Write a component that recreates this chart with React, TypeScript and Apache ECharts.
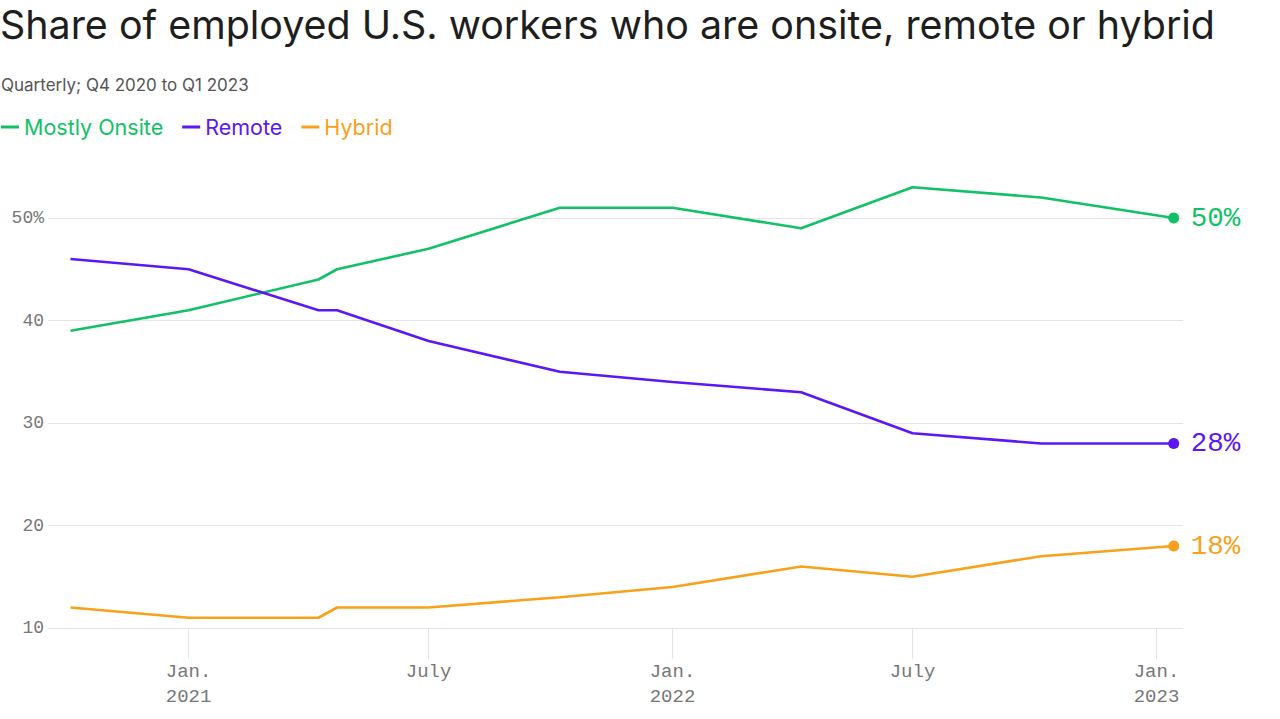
import React, { useEffect, useRef } from "react";
import * as echarts from "echarts";

const seriesNames = ["Mostly Onsite", "Remote", "Hybrid"];
const seriesColors = ["#12c166", "#5c17f2", "#f9a11b"];

const surveyDates = [
  "2020-10-04",
  "2021-01-01",
  "2021-04-09",
  "2021-04-23",
  "2021-07-01",
  "2021-10-08",
  "2022-01-01",
  "2022-04-08",
  "2022-07-01",
  "2022-10-06",
  "2023-01-14",
];

const mostlyOnsite = [39, 41, 44, 45, 47, 51, 51, 49, 53, 52, 50];
const remote = [46, 45, 41, 41, 38, 35, 34, 33, 29, 28, 28];
const hybrid = [12, 11, 11, 12, 12, 13, 14, 16, 15, 17, 18];

const tickDates = ["2021-01-01", "2021-07-01", "2022-01-01", "2022-07-01", "2023-01-01"];
const tickLabels = ["Jan.\n2021", "July", "Jan.\n2022", "July", "Jan.\n2023"];

const yTicks = [10, 20, 30, 40, 50];

const xMinDate = "2020-09-17";
const xMaxDate = "2023-01-21";

const toTs = (d: string) => {
  const [y, m, day] = d.split("-").map(Number);
  return Date.UTC(y, m - 1, day);
};

const MONO = '"Liberation Mono", "DejaVu Sans Mono", monospace';
const SANS = 'Inter, "Noto Sans", sans-serif';

export default function App() {
  const ref = useRef<HTMLDivElement>(null);

  useEffect(() => {
    if (!ref.current) return;
    const chart = echarts.init(ref.current, undefined, { renderer: "svg" });
    const values = [mostlyOnsite, remote, hybrid];

    const lineSeries = seriesNames.map((name, si) => {
      const vals = values[si];
      return {
        name,
        type: "line",
        color: seriesColors[si],
        lineStyle: { width: 2.6, color: seriesColors[si] },
        symbol: "circle",
        symbolSize: 11,
        showSymbol: true,
        itemStyle: { color: seriesColors[si] },
        z: 3 + si,
        data: vals.map((v, i) =>
          i === vals.length - 1
            ? { value: [toTs(surveyDates[i]), v] }
            : { value: [toTs(surveyDates[i]), v], symbol: "none" }
        ),
        endLabel: {
          show: true,
          distance: 17,
          formatter: (p: any) => p.value[1] + "%",
          color: seriesColors[si],
          fontFamily: MONO,
          fontSize: 27.5,
        },
        emphasis: { disabled: true },
      };
    });

    const tickSeries = {
      type: "custom",
      name: "ticks",
      silent: true,
      clip: false,
      data: tickDates.map((d) => [toTs(d), yTicks[0]]),
      renderItem: (params: any, api: any) => {
        const p = api.coord([api.value(0), yTicks[0]]);
        return {
          type: "group",
          children: [
            {
              type: "line",
              shape: { x1: p[0], y1: p[1], x2: p[0], y2: p[1] + 31 },
              style: { stroke: "#e4e3ea", lineWidth: 1 },
            },
            {
              type: "text",
              x: p[0],
              y: p[1] + 31,
              style: {
                text: tickLabels[params.dataIndex],
                fill: "#777777",
                font: `19px ${MONO}`,
                align: "center",
                verticalAlign: "top",
                lineHeight: 25,
              },
            },
          ],
        };
      },
    };

    chart.setOption({
      animation: false,
      backgroundColor: "#ffffff",
      title: [
        {
          text: "Share of employed U.S. workers who are onsite, remote or hybrid",
          left: 0,
          top: 5,
          padding: 0,
          textStyle: {
            fontFamily: SANS,
            fontSize: 39.4,
            fontWeight: 400,
            color: "#1e1e1e",
          },
        },
        {
          text: "Quarterly; Q4 2020 to Q1 2023",
          left: 1,
          top: 76,
          padding: 0,
          textStyle: {
            fontFamily: SANS,
            fontSize: 17,
            fontWeight: 400,
            color: "#555555",
          },
        },
      ],
      legend: {
        left: 1,
        top: 116,
        padding: 0,
        icon: "rect",
        itemWidth: 18,
        itemHeight: 3,
        itemGap: 19,
        selectedMode: false,
        data: seriesNames.map((n, i) => ({
          name: n,
          textStyle: { color: seriesColors[i], fontFamily: SANS, fontSize: 21.5 },
        })),
      },
      grid: { left: 48, right: 97, top: 115.5, bottom: 91, containLabel: false },
      xAxis: {
        type: "value",
        min: toTs(xMinDate),
        max: toTs(xMaxDate),
        axisLabel: { show: false },
        axisTick: { show: false },
        axisLine: { show: false },
        splitLine: { show: false },
      },
      yAxis: {
        type: "value",
        min: 10,
        max: 60,
        interval: 10,
        axisLine: { show: false },
        axisTick: { show: false },
        axisLabel: {
          margin: 4,
          color: "#777777",
          fontFamily: MONO,
          fontSize: 18,
          formatter: (v: number) => (v === 50 ? "50%" : v === 60 ? "" : String(v)),
        },
        splitLine: {
          show: true,
          showMaxLine: false,
          lineStyle: { color: "#e4e3ea", width: 1 },
        },
      },
      series: [...lineSeries, tickSeries],
    });

    return () => chart.dispose();
  }, []);

  return (
    <div
      ref={ref}
      style={{ position: "fixed", left: 0, top: 0, width: 1280, height: 719, background: "#fff" }}
    />
  );
}
